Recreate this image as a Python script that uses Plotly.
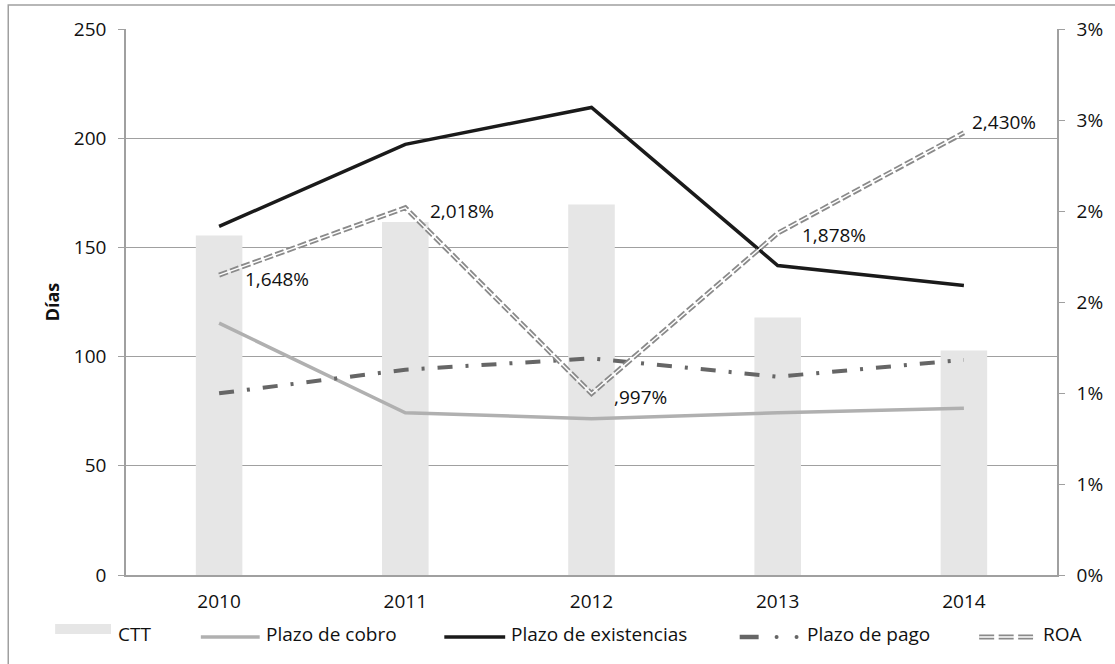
import plotly.graph_objects as go

years = ["2010", "2011", "2012", "2013", "2014"]
ctt = [155.5, 161.6, 169.6, 117.9, 102.8]
plazo_cobro = [115.3, 74.3, 71.6, 74.3, 76.3]
plazo_existencias = [159.6, 197.2, 214.1, 141.7, 132.6]
plazo_pago = [83.2, 94.0, 99.2, 90.8, 98.5]
roa = [1.648, 2.018, 0.997, 1.878, 2.430]
y2_tickvals = [0, 0.5, 1, 1.5, 2, 2.5, 3]
y2_ticktext = ["0%", "1%", "1%", "2%", "2%", "3%", "3%"]
y_tickvals = [0, 50, 100, 150, 200, 250]

def fmt(v):
    s = f"{v:.3f}".replace(".", ",")
    if s.startswith("0,"):
        s = s[1:]
    return s + "%"

roa_labels = [fmt(v) for v in roa]
label_shift = [(24, -4), (23, -3), (20, -3), (22, -2), (6, 11)]

FONT = "Open Sans"
FS = 19
TXT = "#111111"
C_CTT = "#e6e6e6"
C_COBRO = "#b0b0b0"
C_EXIST = "#1a1a1a"
C_PAGO = "#666666"
C_ROA = "#8a8a8a"
PAGO_DASH = "15px,13px,3px,13px"
ROA_DASH = "9px,3px"

# plot area in pixels
L, R, T, B = 126, 1059, 29, 575
W, H = R - L, B - T

def px(x):
    return (x - L) / W

def py(y):
    return (B - y) / H

fig = go.Figure()
fig.add_trace(go.Bar(x=years, y=ctt, name="CTT", marker=dict(color=C_CTT, line=dict(width=0)),
                     width=0.25))
fig.add_trace(go.Scatter(x=years, y=plazo_cobro, name="Plazo de cobro", mode="lines",
                         line=dict(color=C_COBRO, width=3.5)))
fig.add_trace(go.Scatter(x=years, y=plazo_existencias, name="Plazo de existencias", mode="lines",
                         line=dict(color=C_EXIST, width=3.5)))
fig.add_trace(go.Scatter(x=years, y=plazo_pago, name="Plazo de pago", mode="lines",
                         line=dict(color=C_PAGO, width=4, dash=PAGO_DASH)))
fig.add_trace(go.Scatter(x=years, y=roa, name="ROA", mode="lines", yaxis="y2",
                         line=dict(color=C_ROA, width=5, dash=ROA_DASH)))
fig.add_trace(go.Scatter(x=years, y=roa, name="ROA", mode="lines", yaxis="y2", showlegend=False,
                         line=dict(color="white", width=1.4), hoverinfo="skip"))

annotations = []
for i, (v, lab, (dx, dy)) in enumerate(zip(roa, roa_labels, label_shift)):
    annotations.append(dict(x=i, y=v, xref="x", yref="y2", text=lab, showarrow=False,
                            xanchor="left", yanchor="middle", xshift=dx, yshift=dy,
                            font=dict(family=FONT, size=FS, color=TXT)))

# manual legend
leg_text_y = 634
leg_line_y = 637
legend_items = [
    ("CTT", 116),
    ("Plazo de cobro", 264),
    ("Plazo de existencias", 510),
    ("Plazo de pago", 806),
    ("ROA", 1043),
]
for name, x0 in legend_items:
    annotations.append(dict(x=px(x0), y=py(leg_text_y), xref="paper", yref="paper", text=name,
                            showarrow=False, xanchor="left", yanchor="middle",
                            font=dict(family=FONT, size=FS, color=TXT)))

shapes = [
    dict(type="rect", xref="paper", yref="paper", x0=px(8), x1=px(1135), y0=py(690), y1=py(5),
         line=dict(color="#a0a0a0", width=1.5), layer="below"),
    dict(type="rect", xref="paper", yref="paper", x0=px(55), x1=px(111), y0=py(634), y1=py(624),
         fillcolor=C_CTT, line=dict(width=0)),
    dict(type="line", xref="paper", yref="paper", x0=px(201), x1=px(260), y0=py(leg_line_y), y1=py(leg_line_y),
         line=dict(color=C_COBRO, width=3.5)),
    dict(type="line", xref="paper", yref="paper", x0=px(445), x1=px(506), y0=py(leg_line_y), y1=py(leg_line_y),
         line=dict(color=C_EXIST, width=3.5)),
    dict(type="line", xref="paper", yref="paper", x0=px(741), x1=px(760), y0=py(leg_line_y), y1=py(leg_line_y),
         line=dict(color=C_PAGO, width=4.5)),
    dict(type="line", xref="paper", yref="paper", x0=px(981), x1=px(1035), y0=py(leg_line_y), y1=py(leg_line_y),
         line=dict(color=C_ROA, width=5, dash="15px,4.5px")),
    dict(type="line", xref="paper", yref="paper", x0=px(981), x1=px(1035), y0=py(leg_line_y), y1=py(leg_line_y),
         line=dict(color="white", width=1.4)),
]
for cx in (778, 798):
    shapes.append(dict(type="circle", xref="paper", yref="paper", x0=px(cx - 2), x1=px(cx + 2),
                       y0=py(leg_line_y + 2), y1=py(leg_line_y - 2), fillcolor=C_PAGO, line=dict(width=0)))

fig.update_layout(
    width=1115, height=664,
    margin=dict(l=L, r=1115 - R, t=T, b=664 - B),
    paper_bgcolor="white", plot_bgcolor="white",
    font=dict(family=FONT, size=FS, color=TXT),
    showlegend=False,
    xaxis=dict(type="category", range=[-0.5, 4.5], showgrid=False,
               showline=True, linecolor="#a0a0a0", linewidth=1.5, ticks="",
               tickfont=dict(size=FS), ticklabelstandoff=8),
    yaxis=dict(range=[0, 250], tickvals=y_tickvals,
               showgrid=True, gridcolor="#a0a0a0", gridwidth=1,
               showline=True, linecolor="#a0a0a0", linewidth=1.5,
               ticks="outside", ticklen=6, tickcolor="#a0a0a0",
               tickfont=dict(size=FS), ticklabelstandoff=8,
               title=dict(text="<b>Días</b>", font=dict(size=FS - 1), standoff=10),
               zeroline=False),
    yaxis2=dict(range=[0, 3], overlaying="y", side="right", tickvals=y2_tickvals, ticktext=y2_ticktext,
                showgrid=False, showline=True, linecolor="#a0a0a0", linewidth=1.5,
                ticks="outside", ticklen=6, tickcolor="#a0a0a0",
                tickfont=dict(size=FS), ticklabelstandoff=8, zeroline=False),
    annotations=annotations,
    shapes=shapes,
)

fig.write_html("out.html")
